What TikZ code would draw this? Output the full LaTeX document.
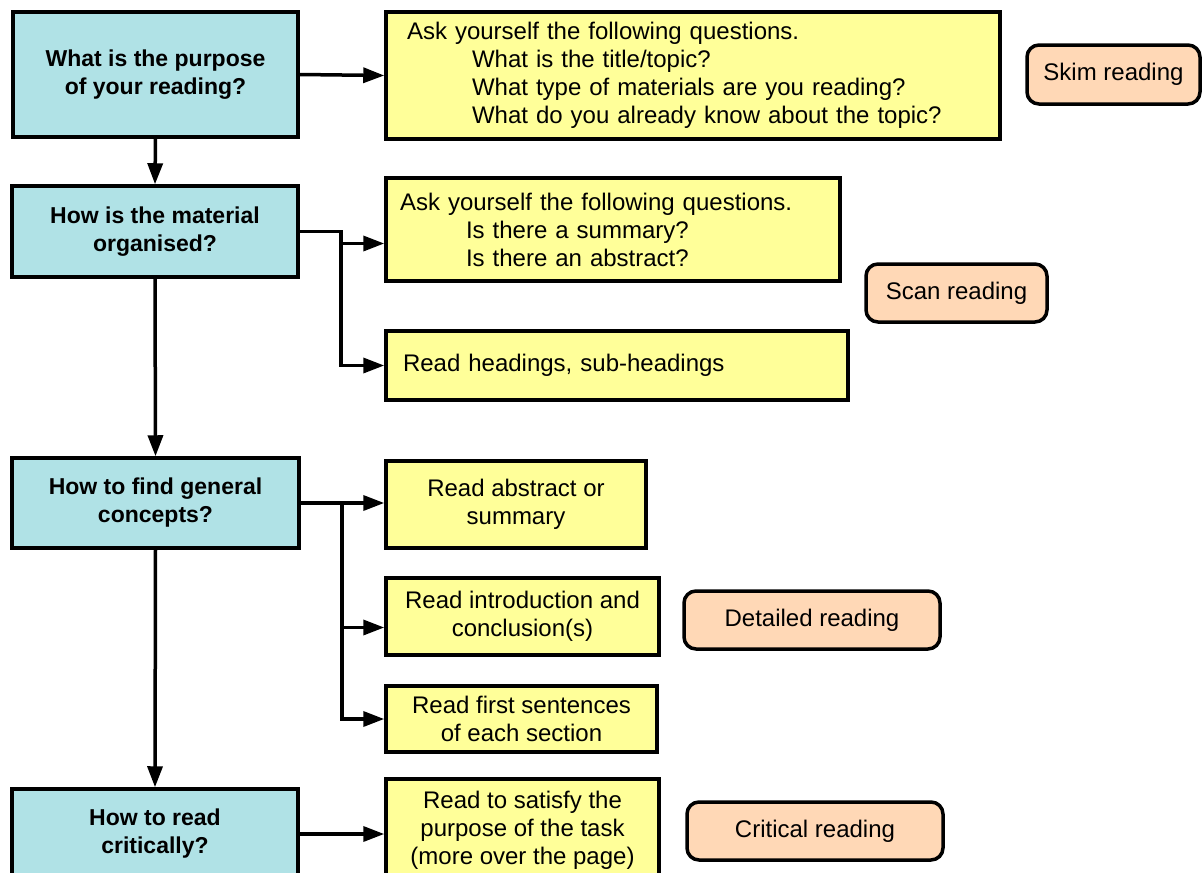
\documentclass[tikz,border=0pt]{standalone}
\usepackage{fontspec}
\setmainfont{Liberation Sans}
\usetikzlibrary{arrows.meta}

\definecolor{qblue}{RGB}{176,226,230}
\definecolor{ayellow}{RGB}{255,255,153}
\definecolor{kpeach}{RGB}{255,216,182}

\begin{document}
\begin{tikzpicture}[x=1pt, y=-1pt,
    question/.style={draw, line width=3.5pt, fill=qblue, align=center, inner sep=0pt,
      font=\fontsize{23}{28}\selectfont\bfseries},
    action/.style={draw, line width=3.5pt, fill=ayellow, align=center, inner sep=0pt,
      font=\fontsize{24}{28}\selectfont},
    kind/.style={draw, line width=3.5pt, fill=kpeach, rounded corners=12pt, inner sep=0pt,
      font=\fontsize{24}{28}\selectfont},
    link/.style={line width=3.5pt, -{Triangle[length=21pt,width=15pt]}},
  ]
    % \draw[help lines, step=50] (0,0) grid (1200,850);
    \useasboundingbox (0,0) rectangle (1203,873);
    \clip (0,0) rectangle (1203,873);

    % questions
    \node[question, minimum width=285pt, minimum height=125pt] (b1) at (155.5,74.5) {What is the purpose\\of your reading?};
    \node[question, minimum width=286pt, minimum height=91pt]  (b2) at (155,231.5) {How is the material\\organised?};
    \node[question, minimum width=287pt, minimum height=90pt]  (b3) at (155.5,503) {How to find general\\concepts?};
    \node[question, minimum width=286pt, minimum height=90pt]  (b4) at (155,834) {How to read\\critically?};

    % actions
    \node[action, minimum width=614pt, minimum height=127pt, text width=572pt, align=left] (y1) at (693,75.5)
      {Ask yourself the following questions.\\
       \hspace*{65pt}What is the title/topic?\\
       \hspace*{65pt}What type of materials are you reading?\\
       \hspace*{65pt}What do you already know about the topic?};
    \node[action, minimum width=454pt, minimum height=103pt, text width=426pt, align=left] (y2) at (613,229.5)
      {Ask yourself the following questions.\\
       \hspace*{66pt}Is there a summary?\\
       \hspace*{66pt}Is there an abstract?};
    \node[action, minimum width=462pt, minimum height=69pt, text width=428pt, align=left] (y3) at (617,365.5)
      {Read headings, sub-headings};
    \node[action, minimum width=260pt, minimum height=87pt]  (y4) at (516,504.5) {Read abstract or\\summary};
    \node[action, minimum width=273pt, minimum height=77pt]  (y5) at (522.5,616.5) {Read introduction and\\conclusion(s)};
    \node[action, minimum width=271pt, minimum height=66pt]  (y6) at (521.5,719) {Read first sentences\\of each section};
    \node[action, minimum width=273pt, minimum height=103pt] (y7) at (522.5,830.5) {Read to satisfy the\\purpose of the task\\(more over the page)};

    % kinds of reading
    \node[kind, minimum width=173pt, minimum height=59pt] (skim) at (1113.5,74.5) {Skim reading};
    \node[kind, minimum width=181pt, minimum height=58pt] (scan) at (956.5,293) {Scan reading};
    \node[kind, minimum width=256pt, minimum height=58pt] (detail) at (812,620) {Detailed reading};
    \node[kind, minimum width=256pt, minimum height=58pt] (critic) at (815,831) {Critical reading};

    % down the questions
    \draw[link] (b1.south) -- (b2.north);
    \draw[link] (b2.south) -- (b3.north);
    \draw[link] (b3.south) -- (b4.north);

    % across to the actions
    \draw[link] (b1.east) -- (y1.west);

    \coordinate (j2) at (341,231.5);
    \coordinate (y2in) at ([yshift=-14pt]y2.west);
    \draw[link] (b2.east) -- (j2) |- (y3.west);
    \draw[link] (j2 |- y2in) -- (y2in);

    \coordinate (j3) at (342,503.5);
    \coordinate (y5in) at ([yshift=-11pt]y5.west);
    \draw[link] (b3.east) -- (b3.east -| y4.west);
    \draw[link] (j3) |- (y6.west);
    \draw[link] (j3 |- y5in) -- (y5in);

    \draw[link] (b4.east) -- (b4.east -| y7.west);
\end{tikzpicture}
\end{document}
